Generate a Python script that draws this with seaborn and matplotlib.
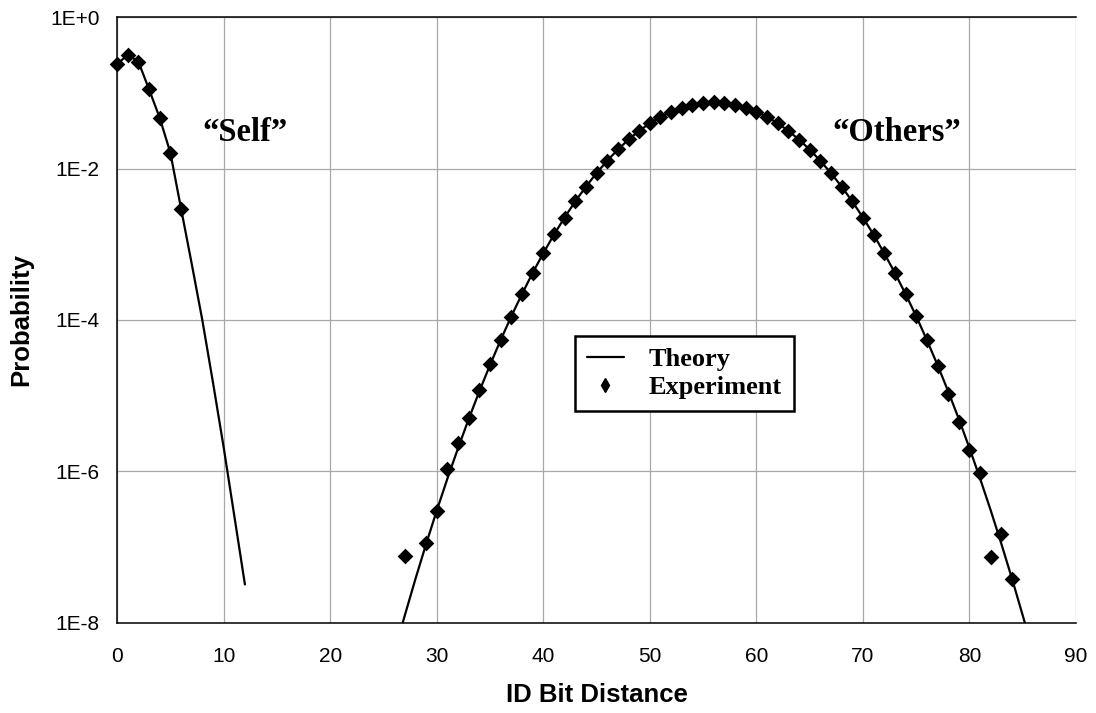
import matplotlib
matplotlib.use("Agg")
import matplotlib.pyplot as plt
import matplotlib.ticker as mticker
from matplotlib.lines import Line2D
import seaborn as sns
import pandas as pd

# theory curves
self_theory_x = list(range(0, 13))
self_theory_y = [0.24, 0.32, 0.26, 0.112, 0.047, 0.0163, 0.0030,
                 5.6e-4, 1.0e-4, 1.5e-5, 2.1e-6, 2.6e-7, 3.2e-8]

others_theory_x = list(range(26, 87))
others_theory_y = [4.0e-9, 1.24e-8, 3.77e-8, 1.09e-7, 3.02e-7, 7.99e-7,
                   2.02e-6, 4.91e-6, 1.14e-5, 2.54e-5, 5.43e-5, 1.12e-4,
                   2.20e-4, 4.18e-4, 7.63e-4, 1.34e-3, 2.26e-3, 3.69e-3,
                   5.78e-3, 8.74e-3, 0.0127, 0.0179, 0.0242, 0.0316,
                   0.0398, 0.0484, 0.0568, 0.0643, 0.0702, 0.0741,
                   0.0754,
                   0.0741, 0.0702, 0.0643, 0.0568, 0.0484, 0.0398,
                   0.0316, 0.0242, 0.0179, 0.0127, 8.74e-3, 5.78e-3,
                   3.69e-3, 2.26e-3, 1.34e-3, 7.63e-4, 4.18e-4, 2.20e-4,
                   1.12e-4, 5.43e-5, 2.54e-5, 1.14e-5, 4.91e-6, 2.02e-6,
                   7.99e-7, 3.02e-7, 1.09e-7, 3.77e-8, 1.24e-8, 4.0e-9]

# experiment points
self_exp_x = [0, 1, 2, 3, 4, 5, 6]
self_exp_y = [0.239, 0.318, 0.259, 0.112, 0.047, 0.0163, 0.0029]

others_exp_x = [27] + list(range(29, 85))
others_exp_y = [7.5e-8, 1.12e-7, 3.0e-7, 1.07e-6, 2.4e-6, 5.1e-6, 1.2e-5,
                2.6e-5, 5.5e-5, 1.1e-4, 2.2e-4, 4.2e-4, 7.6e-4, 1.35e-3,
                2.25e-3, 3.7e-3, 5.8e-3, 8.8e-3, 0.0127, 0.0180, 0.0243,
                0.0316, 0.0398, 0.0484, 0.0568, 0.0643, 0.0702, 0.0741,
                0.0754, 0.0741, 0.0702, 0.0643, 0.0568, 0.0484, 0.0398,
                0.0316, 0.0242, 0.0179, 0.0127, 0.0087, 0.0058, 0.0037,
                2.26e-3, 1.34e-3, 7.6e-4, 4.2e-4, 2.2e-4, 1.12e-4,
                5.4e-5, 2.5e-5, 1.06e-5, 4.5e-6, 1.9e-6, 9.5e-7,
                7.4e-8, 1.5e-7, 3.8e-8]

ytick_vals = [1e-8, 1e-6, 1e-4, 1e-2, 1.0]
ytick_labels = ["1E-8", "1E-6", "1E-4", "1E-2", "1E+0"]
xtick_vals = list(range(0, 91, 10))

sns.set_style("white")
plt.rcParams["font.family"] = ["Liberation Sans", "DejaVu Sans"]
plt.rcParams["text.color"] = "black"
plt.rcParams["axes.labelcolor"] = "black"

fig = plt.figure(figsize=(10.96, 7.13), dpi=100)
ax = fig.add_axes([0.1068, 0.1267, 0.8750, 0.8490])

sns.lineplot(x=self_theory_x, y=self_theory_y, color="black", lw=1.6,
             estimator=None, sort=False, ax=ax, zorder=3)
sns.lineplot(x=others_theory_x, y=others_theory_y, color="black", lw=1.6,
             estimator=None, sort=False, ax=ax, zorder=3)

exp = pd.DataFrame({"x": self_exp_x + others_exp_x,
                    "y": self_exp_y + others_exp_y})
sns.scatterplot(data=exp, x="x", y="y", marker="D", s=64, color="black",
                linewidth=0, ax=ax, zorder=4, clip_on=False)

ax.set_yscale("log")
ax.set_xlim(0, 90)
ax.set_ylim(1e-8, 1)
ax.yaxis.set_major_locator(mticker.FixedLocator(ytick_vals))
ax.yaxis.set_minor_locator(mticker.NullLocator())
ax.set_yticklabels(ytick_labels)
ax.set_xticks(xtick_vals)

ax.grid(True, color="#a8a8a8", lw=0.9)
ax.set_axisbelow(True)
ax.spines["right"].set_visible(False)
for side in ["left", "bottom", "top"]:
    ax.spines[side].set_color("black")
    ax.spines[side].set_linewidth(1.1)
ax.tick_params(axis="both", direction="inout", length=9, width=1.1,
               colors="black", labelsize=15)
ax.tick_params(axis="x", pad=13)
ax.tick_params(axis="y", pad=8)

ax.set_xlabel("ID Bit Distance", fontsize=18.5, fontweight="bold", labelpad=12)
ax.set_ylabel("Probability", fontsize=18.5, fontweight="bold", labelpad=12)

serif = ["Liberation Serif", "DejaVu Serif"]
ax.text(12.0, 0.0296, "\u201cSelf\u201d", family=serif, fontsize=23.5,
        fontweight="bold", ha="center", va="center")
ax.text(73.2, 0.0296, "\u201cOthers\u201d", family=serif, fontsize=23.5,
        fontweight="bold", ha="center", va="center")

handles = [Line2D([], [], color="black", lw=1.6),
           Line2D([], [], color="black", lw=0, marker="d", markersize=7)]
leg = ax.legend(handles, ["Theory", "Experiment"], loc="upper left",
                bbox_to_anchor=(0.4776, 0.4736), borderaxespad=0,
                fancybox=False, edgecolor="black", framealpha=1,
                prop={"family": serif, "weight": "bold", "size": 19},
                handlelength=1.4, handletextpad=0.95, borderpad=0.45,
                labelspacing=0.15)
leg.get_frame().set_linewidth(1.8)

fig.savefig("out.png", dpi=100)
